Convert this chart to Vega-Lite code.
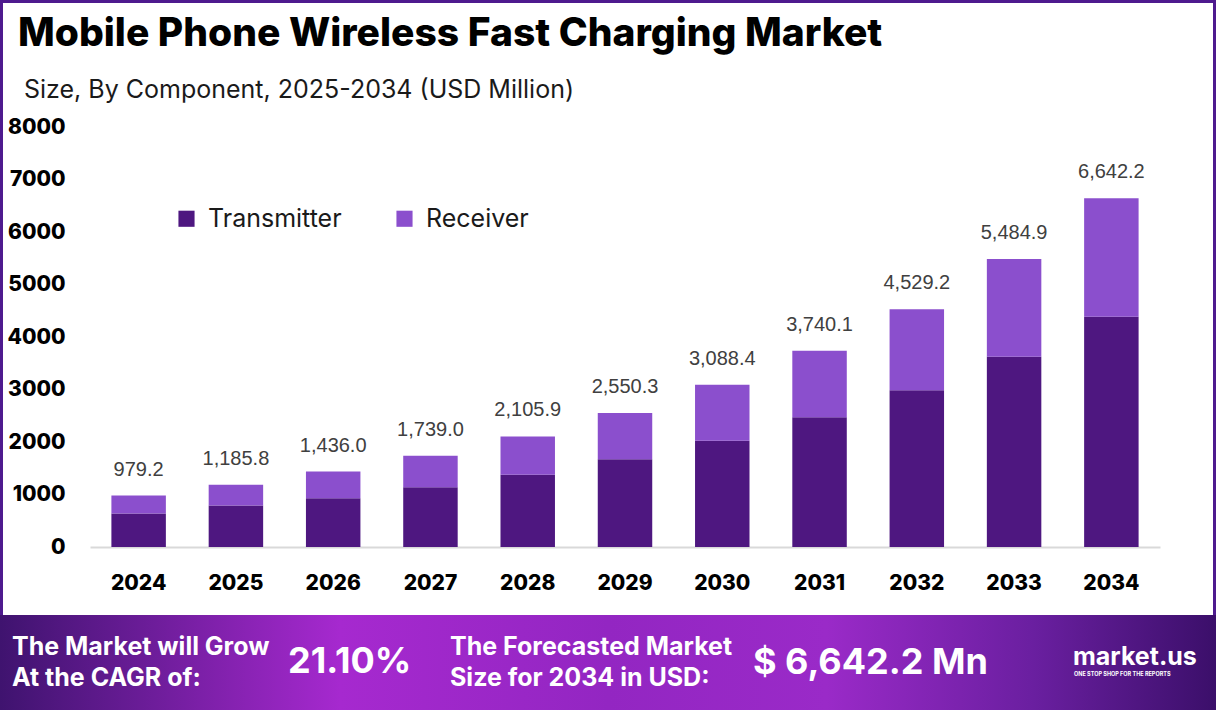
{
  "$schema": "https://vega.github.io/schema/vega-lite/v6.json",
  "width": 1070,
  "height": 420,
  "autosize": {"type": "none"},
  "padding": {"left": 90, "top": 127, "right": 56, "bottom": 163},
  "background": "white",
  "config": {"view": {"stroke": null}, "font": "Inter"},
  "datasets": {
    "segments": [
      {"year": "2024", "component": "Transmitter", "value": 637.5},
      {"year": "2024", "component": "Receiver", "value": 341.7},
      {"year": "2025", "component": "Transmitter", "value": 788.6},
      {"year": "2025", "component": "Receiver", "value": 397.2},
      {"year": "2026", "component": "Transmitter", "value": 930.5},
      {"year": "2026", "component": "Receiver", "value": 505.5},
      {"year": "2027", "component": "Transmitter", "value": 1139.0},
      {"year": "2027", "component": "Receiver", "value": 600.0},
      {"year": "2028", "component": "Transmitter", "value": 1377.3},
      {"year": "2028", "component": "Receiver", "value": 728.6},
      {"year": "2029", "component": "Transmitter", "value": 1673.0},
      {"year": "2029", "component": "Receiver", "value": 877.3},
      {"year": "2030", "component": "Transmitter", "value": 2026.0},
      {"year": "2030", "component": "Receiver", "value": 1062.4},
      {"year": "2031", "component": "Transmitter", "value": 2472.2},
      {"year": "2031", "component": "Receiver", "value": 1267.9},
      {"year": "2032", "component": "Transmitter", "value": 2984.7},
      {"year": "2032", "component": "Receiver", "value": 1544.5},
      {"year": "2033", "component": "Transmitter", "value": 3625.5},
      {"year": "2033", "component": "Receiver", "value": 1859.4},
      {"year": "2034", "component": "Transmitter", "value": 4383.9},
      {"year": "2034", "component": "Receiver", "value": 2258.3}
    ],
    "totals": [
      {"year": "2024", "total": 979.2},
      {"year": "2025", "total": 1185.8},
      {"year": "2026", "total": 1436.0},
      {"year": "2027", "total": 1739.0},
      {"year": "2028", "total": 2105.9},
      {"year": "2029", "total": 2550.3},
      {"year": "2030", "total": 3088.4},
      {"year": "2031", "total": 3740.1},
      {"year": "2032", "total": 4529.2},
      {"year": "2033", "total": 5484.9},
      {"year": "2034", "total": 6642.2}
    ],
    "banner": [
      {"cagr_label": "The Market will Grow|At the CAGR of:", "cagr": "21.10%", "size_label": "The Forecasted Market|Size for 2034 in USD:", "size": "$ 6,642.2 Mn", "brand": "market.us", "tagline": "ONE STOP SHOP FOR THE REPORTS", "title": "Mobile Phone Wireless Fast Charging Market", "subtitle": "Size, By Component, 2025-2034 (USD Million)"}
    ]
  },
  "layer": [
    {
      "data": {"name": "banner"},
      "mark": {"type": "rect", "fill": null, "stroke": "#4e1a8e", "strokeWidth": 3},
      "encoding": {"x": {"value": -88.5}, "x2": {"value": 1124.5}, "y": {"value": -125.5}, "y2": {"value": 500}}
    },
    {
      "data": {"name": "banner"},
      "mark": {
        "type": "rect",
        "fill": {
          "gradient": "linear", "x1": 0, "y1": 0, "x2": 1, "y2": 0,
          "stops": [
            {"offset": 0, "color": "#3f136f"},
            {"offset": 0.28, "color": "#a629cf"},
            {"offset": 0.5, "color": "#9326c2"},
            {"offset": 0.68, "color": "#9a2ac8"},
            {"offset": 0.85, "color": "#6a1fa0"},
            {"offset": 1, "color": "#3b0f6a"}
          ]
        }
      },
      "encoding": {"x": {"value": -90}, "x2": {"value": 1126}, "y": {"value": 488}, "y2": {"value": 583}}
    },
    {
      "data": {"name": "segments"},
      "mark": {"type": "bar"},
      "encoding": {
        "x": {
          "field": "year", "type": "ordinal",
          "scale": {"paddingInner": 0.44, "paddingOuter": 0.22},
          "axis": {"title": null, "labelAngle": 0, "labelFontSize": 21, "labelFontWeight": 800, "labelColor": "#000000", "labelPadding": 25, "ticks": false, "domainColor": "#d9d9d9", "domainWidth": 2}
        },
        "y": {
          "field": "value", "type": "quantitative", "stack": "zero",
          "scale": {"domain": [0, 8000], "nice": false},
          "axis": {"title": null, "values": [0, 1000, 2000, 3000, 4000, 5000, 6000, 7000, 8000], "format": "d", "labelFontSize": 21, "labelFontWeight": 800, "labelColor": "#000000", "labelPadding": 25, "ticks": false, "domain": false, "grid": false}
        },
        "color": {
          "field": "component", "type": "nominal",
          "sort": ["Transmitter", "Receiver"],
          "scale": {"domain": ["Transmitter", "Receiver"], "range": ["#4e1780", "#8b4fcd"]},
          "legend": {"title": null, "orient": "none", "legendX": 84, "legendY": 79, "direction": "horizontal", "symbolType": "square", "symbolSize": 260, "symbolStrokeWidth": 0, "labelFontSize": 25, "labelColor": "#1a1a1a", "labelOffset": 9, "columnPadding": 50, "labelLimit": 300}
        }
      }
    },
    {
      "data": {"name": "totals"},
      "mark": {"type": "text", "baseline": "middle", "dy": -26, "fontSize": 20, "font": "Liberation Sans", "color": "#404040"},
      "encoding": {
        "x": {"field": "year", "type": "ordinal"},
        "y": {"field": "total", "type": "quantitative"},
        "text": {"field": "total", "type": "quantitative", "format": ",.1f"}
      }
    },
    {
      "data": {"name": "banner"},
      "mark": {"type": "text", "align": "left", "baseline": "alphabetic", "fontSize": 39, "fontWeight": 800, "color": "#000000"},
      "encoding": {"x": {"value": -72}, "y": {"value": -81}, "text": {"field": "title"}}
    },
    {
      "data": {"name": "banner"},
      "mark": {"type": "text", "align": "left", "baseline": "alphabetic", "fontSize": 25, "color": "#1a1a1a"},
      "encoding": {"x": {"value": -66}, "y": {"value": -29}, "text": {"field": "subtitle"}}
    },
    {
      "data": {"name": "banner"},
      "mark": {"type": "text", "align": "left", "baseline": "middle", "fontSize": 25, "fontWeight": "bold", "color": "white", "lineBreak": "|", "lineHeight": 31},
      "encoding": {"x": {"value": -78}, "y": {"value": 520}, "text": {"field": "cagr_label"}}
    },
    {
      "data": {"name": "banner"},
      "mark": {"type": "text", "align": "left", "baseline": "middle", "fontSize": 36, "fontWeight": "bold", "color": "white"},
      "encoding": {"x": {"value": 198}, "y": {"value": 535}, "text": {"field": "cagr"}}
    },
    {
      "data": {"name": "banner"},
      "mark": {"type": "text", "align": "left", "baseline": "middle", "fontSize": 25, "fontWeight": "bold", "color": "white", "lineBreak": "|", "lineHeight": 31},
      "encoding": {"x": {"value": 360}, "y": {"value": 520}, "text": {"field": "size_label"}}
    },
    {
      "data": {"name": "banner"},
      "mark": {"type": "text", "align": "left", "baseline": "middle", "fontSize": 36, "fontWeight": "bold", "color": "white"},
      "encoding": {"x": {"value": 663}, "y": {"value": 536}, "text": {"field": "size"}}
    },
    {
      "data": {"name": "banner"},
      "mark": {"type": "text", "align": "left", "baseline": "middle", "fontSize": 25, "fontWeight": "bold", "color": "white"},
      "encoding": {"x": {"value": 983}, "y": {"value": 530}, "text": {"field": "brand"}}
    },
    {
      "data": {"name": "banner"},
      "mark": {"type": "text", "align": "left", "baseline": "middle", "fontSize": 5.5, "fontWeight": "bold", "color": "white"},
      "encoding": {"x": {"value": 984}, "y": {"value": 547}, "text": {"field": "tagline"}}
    }
  ]
}
